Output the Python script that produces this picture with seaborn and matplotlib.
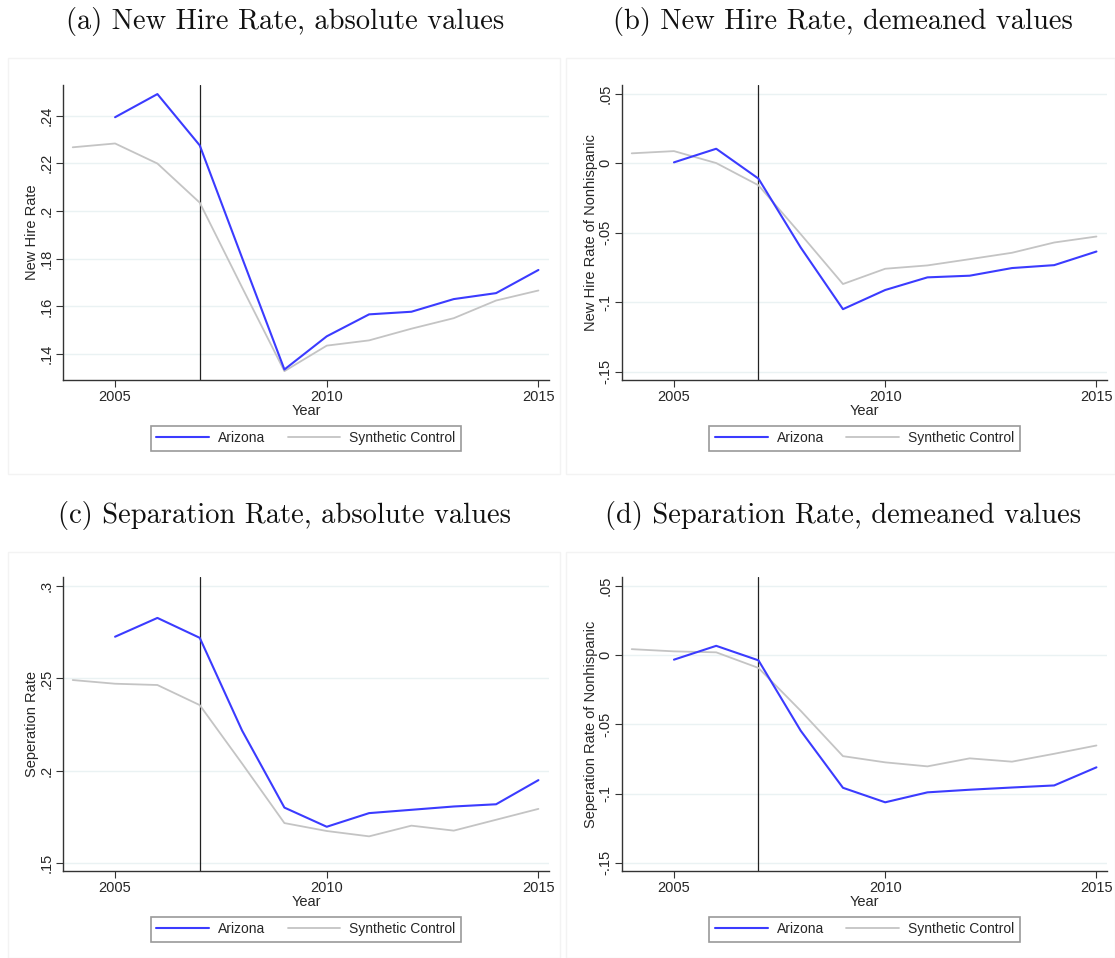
import matplotlib
matplotlib.use("Agg")
import matplotlib.pyplot as plt
import seaborn as sns
import pandas as pd
from matplotlib.patches import Rectangle
from matplotlib.lines import Line2D

# ---------------- data ----------------
years_az = [2005, 2006, 2007, 2008, 2009, 2010, 2011, 2012, 2013, 2014, 2015]
years_sc = [2004, 2005, 2006, 2007, 2008, 2009, 2010, 2011, 2012, 2013, 2014, 2015]

hire_abs_az = [0.2393, 0.2490, 0.2275, 0.1804, 0.1336, 0.1475, 0.1567, 0.1578, 0.1631, 0.1656, 0.1753]
hire_abs_sc = [0.2267, 0.2283, 0.2199, 0.2035, 0.1680, 0.1329, 0.1436, 0.1458, 0.1507, 0.1551, 0.1625, 0.1667]

hire_dm_az = [0.0007, 0.0105, -0.0110, -0.0606, -0.1050, -0.0912, -0.0821, -0.0809, -0.0754, -0.0733, -0.0635]
hire_dm_sc = [0.0072, 0.0088, 0.0002, -0.0158, -0.0510, -0.0869, -0.0759, -0.0735, -0.0690, -0.0644, -0.0570, -0.0527]

sep_abs_az = [0.2726, 0.2828, 0.2720, 0.2217, 0.1799, 0.1695, 0.1769, 0.1787, 0.1805, 0.1817, 0.1948]
sep_abs_sc = [0.2491, 0.2471, 0.2464, 0.2355, 0.2038, 0.1715, 0.1672, 0.1643, 0.1701, 0.1674, 0.1733, 0.1792]

sep_dm_az = [-0.0031, 0.0069, -0.0036, -0.0545, -0.0958, -0.1063, -0.0991, -0.0972, -0.0956, -0.0941, -0.0810]
sep_dm_sc = [0.0045, 0.0029, 0.0022, -0.0091, -0.0401, -0.0729, -0.0774, -0.0803, -0.0745, -0.0769, -0.0712, -0.0652]

titles = ["(a) New Hire Rate, absolute values",
          "(b) New Hire Rate, demeaned values",
          "(c) Separation Rate, absolute values",
          "(d) Separation Rate, demeaned values"]
ylabels = ["New Hire Rate", "New Hire Rate of Nonhispanic",
           "Seperation Rate", "Seperation Rate of Nonhispanic"]

yticks_hire_abs = [0.14, 0.16, 0.18, 0.20, 0.22, 0.24]
yticklabels_hire_abs = [".14", ".16", ".18", ".2", ".22", ".24"]
yticks_dm = [-0.15, -0.10, -0.05, 0.0, 0.05]
yticklabels_dm = ["-.15", "-.1", "-.05", "0", ".05"]
yticks_sep_abs = [0.15, 0.20, 0.25, 0.30]
yticklabels_sep_abs = [".15", ".2", ".25", ".3"]
xticks = [2005, 2010, 2015]
xticklabels = ["2005", "2010", "2015"]
treat_year = 2007
series_names = ["Arizona", "Synthetic Control"]

# ---------------- style ----------------
sns.set_style("white")
plt.rcParams['font.family'] = ['Liberation Sans', 'DejaVu Sans']

AZ_COLOR = "#3b3bff"
SC_COLOR = "#c4c4c4"

W, H = 1115, 958
fig = plt.figure(figsize=(W / 100, H / 100), dpi=100)

def fx(px):
    return px / W

def fy(py):
    return 1 - py / H

panels = [
    dict(data=(hire_abs_az, hire_abs_sc), yt=yticks_hire_abs, ytl=yticklabels_hire_abs,
         ylim=(0.1292, 0.2528), ax_px=(63, 549, 85, 380), frame=(8, 560, 58, 474), title_xy=(285, 22)),
    dict(data=(hire_dm_az, hire_dm_sc), yt=yticks_dm, ytl=yticklabels_dm,
         ylim=(-0.156, 0.0564), ax_px=(622, 1107, 85, 380), frame=(566, 1115, 58, 474), title_xy=(843, 22)),
    dict(data=(sep_abs_az, sep_abs_sc), yt=yticks_sep_abs, ytl=yticklabels_sep_abs,
         ylim=(0.1455, 0.305), ax_px=(63, 549, 577, 871), frame=(8, 560, 552, 958), title_xy=(285, 515)),
    dict(data=(sep_dm_az, sep_dm_sc), yt=yticks_dm, ytl=yticklabels_dm,
         ylim=(-0.156, 0.0567), ax_px=(622, 1107, 577, 871), frame=(566, 1115, 552, 958), title_xy=(843, 515)),
]

for i, p in enumerate(panels):
    # faint panel frame
    fl, fr, ft, fb = p['frame']
    fig.patches.append(Rectangle((fx(fl), fy(fb)), fx(fr) - fx(fl), fy(ft) - fy(fb),
                                 transform=fig.transFigure, facecolor='none',
                                 edgecolor='#f3f3f3', linewidth=1.0, zorder=0))
    l, r, t, b = p['ax_px']
    ax = fig.add_axes([fx(l), fy(b), fx(r) - fx(l), fy(t) - fy(b)])
    az, sc = p['data']
    df_az = pd.DataFrame({"Year": years_az, "value": az})
    df_sc = pd.DataFrame({"Year": years_sc, "value": sc})
    for yv in p['yt']:
        ax.axhline(yv, color='#eaf2f3', linewidth=1.0, zorder=0)
    ax.axvline(treat_year, color='#222222', linewidth=0.9, zorder=1)
    sns.lineplot(data=df_sc, x="Year", y="value", ax=ax, color=SC_COLOR, linewidth=1.3, zorder=2)
    sns.lineplot(data=df_az, x="Year", y="value", ax=ax, color=AZ_COLOR, linewidth=1.5, zorder=3)
    ax.set_xlim(2003.77, 2015.25)
    ax.set_ylim(*p['ylim'])
    ax.set_xticks(xticks)
    ax.set_xticklabels(xticklabels, fontsize=10.5)
    ax.set_yticks(p['yt'])
    ax.set_yticklabels(p['ytl'], fontsize=10.5, rotation=90, va='center')
    ax.set_xlabel("Year", fontsize=10.5, labelpad=0)
    ax.set_ylabel(ylabels[i], fontsize=10.5, labelpad=0)
    ax.tick_params(axis='both', direction='out', length=5, width=0.8, color='#333333', pad=2,
                   left=True, bottom=True)
    for s in ['top', 'right']:
        ax.spines[s].set_visible(False)
    for s in ['left', 'bottom']:
        ax.spines[s].set_color('#333333')
        ax.spines[s].set_linewidth(1.0)
    ax.set_facecolor('white')
    handles = [Line2D([], [], color=AZ_COLOR, linewidth=1.5),
               Line2D([], [], color=SC_COLOR, linewidth=1.3)]
    leg = ax.legend(handles, series_names, loc='upper center', bbox_to_anchor=(0.5, -0.155),
                    ncol=2, frameon=True, fancybox=False, edgecolor='#808080', fontsize=10,
                    handlelength=3.8, handletextpad=0.65, columnspacing=1.6,
                    borderpad=0.4, borderaxespad=0)
    leg.get_frame().set_linewidth(1.2)
    tx, ty = p['title_xy']
    fig.text(fx(tx), fy(ty), titles[i], fontfamily='cmr10', fontsize=20.5,
             ha='center', va='center', color='#111111')

fig.savefig("out.png", dpi=100, facecolor='white')
